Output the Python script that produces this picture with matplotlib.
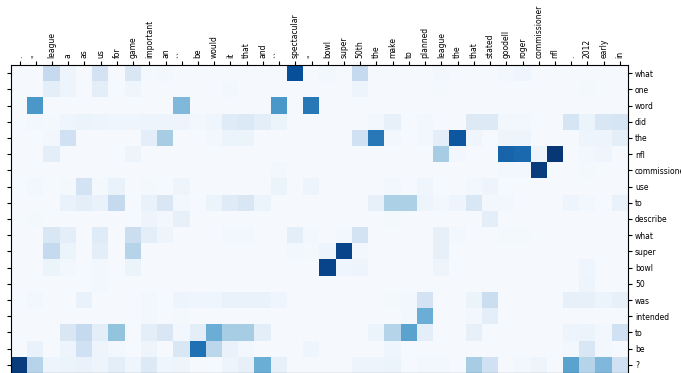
import numpy as np
import matplotlib.pyplot as plt

# context tokens (reversed) along the top, question tokens down the right side
context_tokens = ['.', "''", 'league', 'a', 'as', 'us', 'for', 'game', 'important', 'an',
                  '``', 'be', 'would', 'it', 'that', 'and', '``', 'spectacular', "''", 'bowl',
                  'super', '50th', 'the', 'make', 'to', 'planned', 'league', 'the', 'that', 'stated',
                  'goodell', 'roger', 'commissioner', 'nfl', '.', '2012', 'early', 'in']
question_tokens = ['what', 'one', 'word', 'did', 'the', 'nfl', 'commissioner', 'use', 'to',
                   'describe', 'what', 'super', 'bowl', '50', 'was', 'intended', 'to', 'be', '?']

base_weight = 0.01

# attention weights per question token: {context column: weight}, rest = base_weight
attention = [
    {2: .25, 3: .05, 5: .18, 7: .15, 8: .02, 9: .03, 17: .88, 19: .03, 21: .25, 26: .03, 30: .03, 31: .04},
    {2: .1, 3: .05, 5: .1, 7: .04, 13: .03, 21: .05, 26: .02, 35: .02},
    {1: .6, 10: .45, 16: .6, 18: .72},
    {1: .03, 2: .02, 3: .04, 4: .06, 5: .05, 6: .04, 7: .04, 8: .05, 9: .05, 10: .05, 11: .03, 12: .04,
     13: .12, 14: .14, 15: .1, 16: .06, 22: .03, 23: .08, 25: .03, 28: .13, 29: .13, 30: .03, 31: .03,
     34: .17, 35: .06, 36: .15, 37: .17},
    {2: .03, 3: .2, 8: .1, 9: .35, 12: .03, 13: .06, 14: .06, 21: .2, 22: .72, 23: .03, 25: .03, 26: .1,
     27: .85, 28: .04, 30: .05, 31: .05, 35: .05, 36: .05, 37: .1},
    {2: .1, 7: .05, 26: .35, 27: .03, 30: .8, 31: .78, 32: .05, 33: .97, 35: .03, 36: .04},
    {16: .03, 30: .03, 31: .03, 32: .95, 35: .02},
    {1: .03, 3: .02, 4: .18, 5: .02, 6: .07, 8: .02, 10: .05, 16: .06, 18: .05, 23: .03, 25: .04, 28: .03,
     29: .05},
    {3: .07, 4: .1, 5: .07, 6: .25, 8: .07, 9: .15, 10: .03, 12: .06, 13: .12, 14: .15, 15: .06, 22: .08,
     23: .33, 24: .33, 25: .05, 26: .03, 27: .05, 28: .15, 29: .03, 30: .03, 34: .05, 35: .03, 37: .07},
    {1: .02, 8: .05, 9: .03, 10: .08, 23: .02, 29: .1},
    {2: .15, 3: .1, 5: .12, 7: .22, 8: .1, 9: .05, 13: .03, 14: .03, 17: .1, 18: .03, 20: .03, 21: .18,
     26: .08, 27: .03, 30: .02, 31: .02},
    {2: .25, 3: .06, 5: .1, 7: .3, 17: .03, 18: .02, 19: .05, 20: .92, 21: .03, 26: .08},
    {2: .06, 3: .03, 5: .03, 7: .06, 19: .92, 20: .04, 21: .05, 26: .05, 35: .04},
    {5: .03, 35: .05},
    {1: .03, 4: .07, 8: .03, 10: .05, 11: .04, 12: .04, 13: .07, 14: .07, 15: .07, 16: .04, 23: .02,
     24: .03, 25: .18, 28: .06, 29: .22, 34: .08, 35: .08, 36: .06, 37: .08},
    {8: .03, 10: .02, 24: .03, 25: .5, 28: .03, 29: .1},
    {3: .15, 4: .25, 5: .1, 6: .4, 8: .1, 9: .15, 10: .03, 11: .1, 12: .5, 13: .35, 14: .35, 15: .1,
     22: .06, 23: .3, 24: .55, 25: .1, 28: .08, 34: .05, 35: .06, 36: .03, 37: .2},
    {1: .07, 3: .05, 4: .2, 5: .05, 6: .03, 8: .05, 10: .15, 11: .75, 12: .28, 13: .07, 14: .03, 18: .04,
     23: .04, 34: .03, 35: .15, 36: .03},
    {0: .95, 1: .3, 2: .05, 3: .06, 4: .07, 5: .05, 6: .1, 7: .04, 8: .13, 9: .04, 10: .05, 13: .05,
     14: .08, 15: .5, 16: .08, 21: .05, 22: .05, 23: .06, 25: .03, 26: .03, 28: .35, 29: .2, 31: .03,
     32: .05, 34: .55, 35: .3, 36: .45, 37: .2},
]

weights = np.full((len(question_tokens), len(context_tokens)), base_weight)
for i, row in enumerate(attention):
    for j, w in row.items():
        weights[i, j] = w

fig = plt.figure(figsize=(6.81, 3.73), dpi=100)
ax = fig.add_axes([11.4 / 681, 0.0, (628 - 11.4) / 681, (373 - 65) / 373])
ax.imshow(weights, cmap='Blues', vmin=0, vmax=1, aspect='auto', interpolation='nearest')

ax.set_xticks(range(len(context_tokens)))
ax.set_xticklabels(context_tokens, rotation=90, fontsize=5.5)
ax.set_yticks(range(len(question_tokens)))
ax.set_yticklabels(question_tokens, fontsize=5.5)

ax.tick_params(axis='x', top=True, bottom=False, labeltop=True, labelbottom=False, length=3, pad=2)
ax.tick_params(axis='y', left=True, right=True, labelleft=False, labelright=True, length=3, pad=2)
for s in ax.spines.values():
    s.set_linewidth(0.8)

fig.savefig('out.png', dpi=100)
